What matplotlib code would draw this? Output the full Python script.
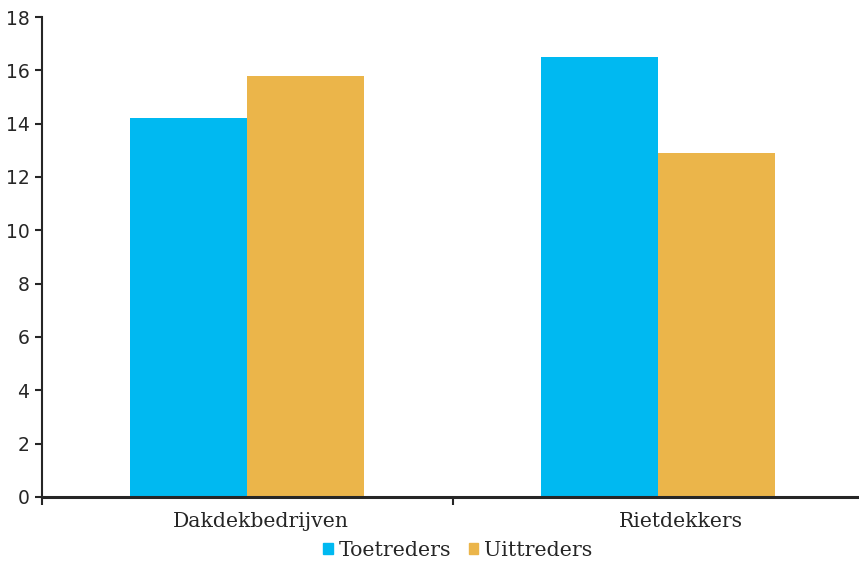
import numpy as np
import matplotlib.pyplot as plt
from matplotlib.patches import Patch

# aantallen per categorie
categorieen = ['Dakdekbedrijven', 'Rietdekkers']
toetreders = [14.2, 16.5]
uittreders = [15.8, 12.9]

blauw = '#00B9F1'
oranje = '#EBB54A'
tekst = '#262626'

fig = plt.figure(figsize=(8.59, 5.61), dpi=100)
# de as loopt iets voorbij de rechterrand van de figuur
ax = fig.add_axes([42 / 859, 64 / 561, 821 / 859, 480 / 561])

x = np.arange(len(categorieen))
breedte = 0.285
ax.bar(x - breedte / 2, toetreders, breedte, color=blauw)
ax.bar(x + breedte / 2, uittreders, breedte, color=oranje)

ax.set_xlim(-0.5, 1.5)
ax.set_ylim(0, 18)
ax.set_yticks(range(0, 19, 2))
ax.tick_params(axis='y', direction='out', length=5, width=1.5, colors=tekst,
               labelsize=13.5, pad=4)
for lbl in ax.get_yticklabels():
    lbl.set_family('DejaVu Sans')

# categorielabels in een schreefletter, streepjes tussen de groepen
ax.set_xticks([-0.5, 0.5])
ax.set_xticklabels([])
ax.tick_params(axis='x', direction='out', length=6, width=1.5, colors=tekst)
verschuiving = [10, 17]  # labels staan iets rechts van het midden
for i, naam in enumerate(categorieen):
    ax.annotate(naam, xy=(i, 0), xycoords=('data', 'data'),
                xytext=(verschuiving[i], -11), textcoords='offset points',
                ha='center', va='top', fontsize=14.7,
                family='DejaVu Serif', color=tekst, annotation_clip=False)

for kant in ['top', 'right']:
    ax.spines[kant].set_visible(False)
ax.spines['left'].set_color(tekst)
ax.spines['left'].set_linewidth(1.5)
ax.spines['bottom'].set_color(tekst)
ax.spines['bottom'].set_linewidth(2.2)

handles = [Patch(color=blauw, label='Toetreders'),
           Patch(color=oranje, label='Uittreders')]
fig.legend(handles=handles, loc='center', bbox_to_anchor=(458 / 859, 1 - 550 / 561),
           ncol=2, frameon=False, handlelength=0.45, handleheight=0.45,
           handletextpad=0.3, columnspacing=0.85,
           prop={'family': 'DejaVu Serif', 'size': 14.8}, labelcolor=tekst)

fig.savefig('out.png', dpi=100)
